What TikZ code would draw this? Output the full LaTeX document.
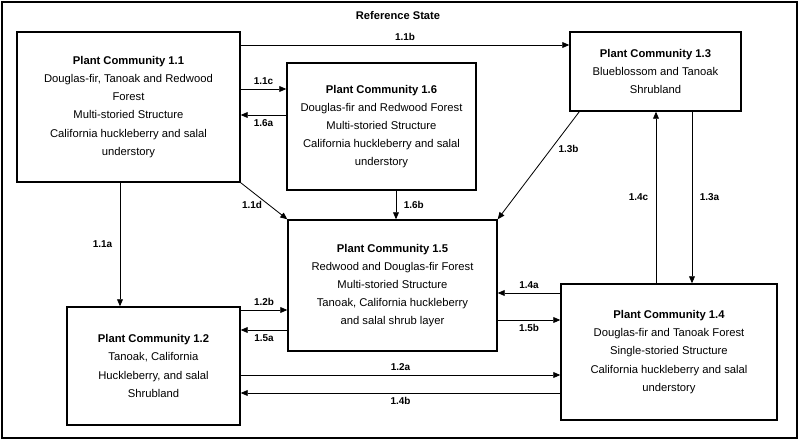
\documentclass[tikz,border=0pt]{standalone}
\usepackage{fontspec}
\setmainfont{Liberation Sans}
\usetikzlibrary{arrows.meta}
\begin{document}
\begin{tikzpicture}[x=0.03cm,y=-0.03cm,
 box/.style={draw,line width=1.2pt,align=center,font=\fontsize{9.6}{15.5}\selectfont,inner sep=0pt},
 arr/.style={-{Triangle[length=6pt,width=5pt]},line width=0.7pt},
 lab/.style={font=\fontsize{8.5}{9}\selectfont\bfseries}]
\useasboundingbox (0,0) rectangle (800,441);
\draw[line width=2pt] (2,2) rectangle (797,438);
\node[font=\fontsize{9.5}{10}\selectfont\bfseries] (title) at (398,16) {Reference State};
\node[box,minimum width=223*0.03cm,minimum height=150*0.03cm] (n11) at (128.5,107) {\textbf{Plant Community 1.1}\\Douglas-fir, Tanoak and Redwood\\Forest\\Multi-storied Structure\\California huckleberry and salal\\understory};
\node[box,minimum width=189*0.03cm,minimum height=127*0.03cm] (n16) at (381.5,126.5) {\textbf{Plant Community 1.6}\\Douglas-fir and Redwood Forest\\Multi-storied Structure\\California huckleberry and salal\\understory};
\node[box,minimum width=171*0.03cm,minimum height=79*0.03cm] (n13) at (655.5,71.5) {\textbf{Plant Community 1.3}\\Blueblossom and Tanoak\\Shrubland};
\node[box,minimum width=209*0.03cm,minimum height=131*0.03cm] (n15) at (392.5,285.5) {\textbf{Plant Community 1.5}\\Redwood and Douglas-fir Forest\\Multi-storied Structure\\Tanoak, California huckleberry\\and salal shrub layer};
\node[box,minimum width=173*0.03cm,minimum height=118*0.03cm] (n12) at (153.5,366) {\textbf{Plant Community 1.2}\\Tanoak, California\\Huckleberry, and salal\\Shrubland};
\node[box,minimum width=216*0.03cm,minimum height=136*0.03cm] (n14) at (669,352) {\textbf{Plant Community 1.4}\\Douglas-fir and Tanoak Forest\\Single-storied Structure\\California huckleberry and salal\\understory};
% arrows
\draw[arr] (n11.east |- 0,45) -- (n13.west |- 0,45) node[lab,pos=0.5,above] {1.1b};
\draw[arr] (n11.east |- 0,89) -- (n16.west |- 0,89) node[lab,midway,above] {1.1c};
\draw[arr] (n16.west |- 0,115) -- (n11.east |- 0,115) node[lab,midway,below] {1.6a};
\draw[arr] (n11.south east) -- (n15.north west) node[lab,pos=0.6,left=2pt] {1.1d};
\draw[arr] (n11.south -| 120,0) -- (n12.north -| 120,0) node[lab,midway,left=3pt] {1.1a};
\draw[arr] (n16.south -| 396,0) -- (n15.north -| 396,0) node[lab,midway,right=3pt] {1.6b};
\draw[arr] (n13.south west) ++(10,0) coordinate (c13) (c13) -- (n15.north east) node[lab,pos=0.35,right=3pt] {1.3b};
\draw[arr] (n14.north -| 656,0) -- (n13.south -| 656,0) node[lab,midway,left=3pt] {1.4c};
\draw[arr] (n13.south -| 692,0) -- (n14.north -| 692,0) node[lab,midway,right=3pt] {1.3a};
\draw[arr] (n14.west |- 0,293) -- (n15.east |- 0,293) node[lab,midway,above] {1.4a};
\draw[arr] (n15.east |- 0,320) -- (n14.west |- 0,320) node[lab,midway,below] {1.5b};
\draw[arr] (n12.east |- 0,310) -- (n15.west |- 0,310) node[lab,midway,above] {1.2b};
\draw[arr] (n15.west |- 0,330) -- (n12.east |- 0,330) node[lab,midway,below] {1.5a};
\draw[arr] (n12.east |- 0,375) -- (n14.west |- 0,375) node[lab,midway,above] {1.2a};
\draw[arr] (n14.west |- 0,393) -- (n12.east |- 0,393) node[lab,midway,below] {1.4b};
\end{tikzpicture}
\end{document}
